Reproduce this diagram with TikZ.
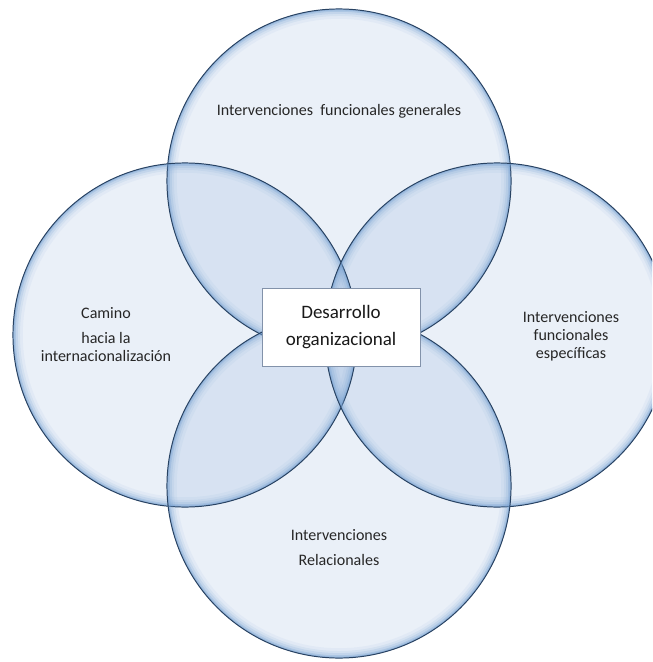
\documentclass[tikz,border=0pt]{standalone}
\usepackage{fontspec}
\setmainfont{Carlito}
\usepackage{tikz}
\definecolor{bubblefill}{RGB}{45,105,185}
\definecolor{rimblue}{RGB}{40,66,98}
\definecolor{glowblue}{RGB}{120,162,210}
\definecolor{boxgray}{RGB}{130,146,170}
\tikzstyle{bubble} = [circle, minimum size=8.6cm, inner sep=0pt, fill=bubblefill, fill opacity=0.1]
\tikzstyle{rim} = [draw=rimblue, line width=0.7pt]
\tikzstyle{glow} = [draw=glowblue]
\tikzstyle{core} = [rectangle, draw=boxgray, line width=0.6pt, fill=white, minimum width=3.95cm, minimum height=1.95cm, align=center, font=\fontsize{13.5}{19}\selectfont, text=black!90]
\tikzstyle{lbl} = [align=center, font=\fontsize{11.4}{12.8}\selectfont, text=black!85]

\begin{document}
\begin{tikzpicture}[x=0.025cm, y=-0.025cm]
  \useasboundingbox (0,0) rectangle (652,662);
  \clip (0,0) rectangle (652,662);

  % the four circles
  \node[bubble] (gen)  at (339,181) {};
  \node[bubble] (intl) at (185,335) {};
  \node[bubble] (spec) at (497,335) {};
  \node[bubble] (rel)  at (339,486) {};

  % soft inner edge, then the rim
  \foreach \c in {gen,intl,spec,rel}{
    \foreach \w/\o in {7/0.08, 5/0.12, 3.5/0.18, 2/0.3, 1/0.45}
      \draw[glow, line width=\w pt, opacity=\o] (\c.center) circle[radius=4.3cm-0.5*\w pt];
    \draw[rim] (\c.center) circle[radius=4.3cm];
  }

  % texts
  \node[lbl] (gen-txt)  at (339,111) {Intervenciones\ \ funcionales generales};
  \node[lbl] (intl-txt) at (106,335) {Camino\\[5pt]hacia la\\internacionalización};
  \node[lbl] (spec-txt) at (571,336) {Intervenciones\\funcionales\\específicas};
  \node[lbl] (rel-txt)  at (339,548) {Intervenciones\\[5pt]Relacionales};

  \node[core] (core) at (341,327) {Desarrollo\\organizacional};
\end{tikzpicture}
\end{document}
